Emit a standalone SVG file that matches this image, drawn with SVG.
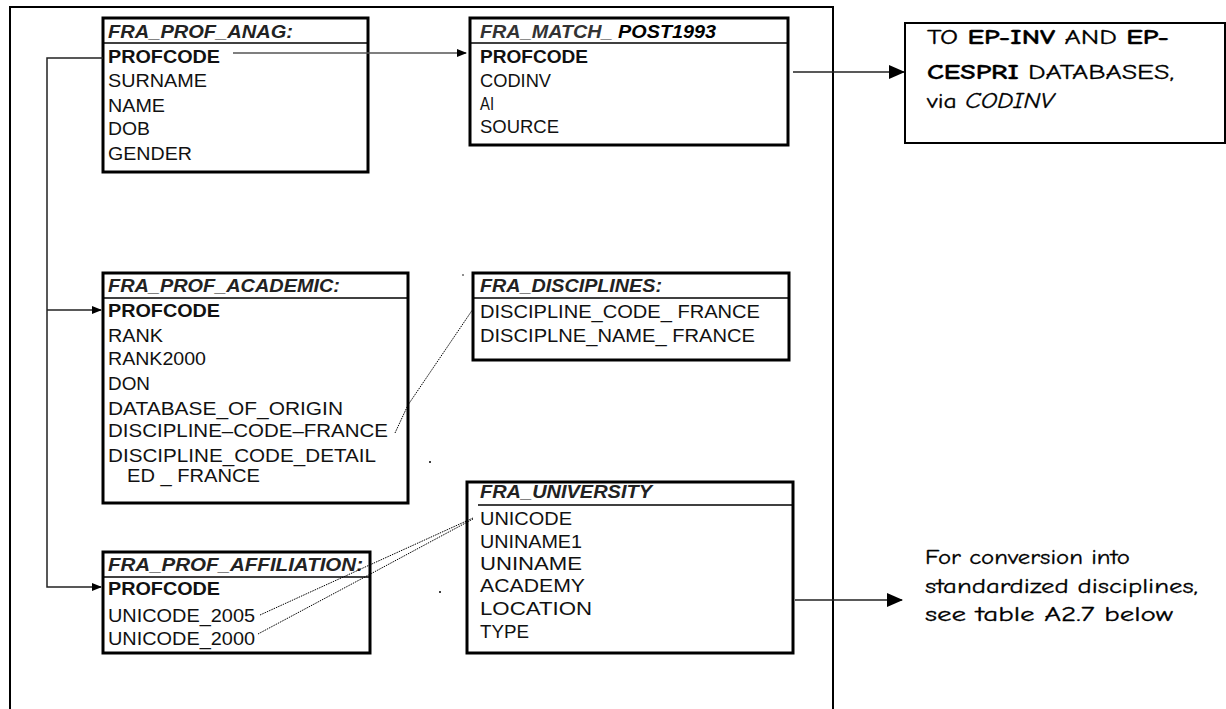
<svg xmlns="http://www.w3.org/2000/svg" width="1226" height="709" viewBox="0 0 1226 709">
<style>
.tbl{fill:#fff;stroke:#000;stroke-width:3}
.sep{stroke:#000;stroke-width:1.5}
.f{font-family:"Liberation Sans",Arial,sans-serif;font-size:19px;fill:#111}
.b{font-weight:bold}
.h{font-family:"Liberation Sans",Arial,sans-serif;font-size:19px;font-weight:bold;font-style:italic;fill:#222}
.c{font-family:"Comic Sans MS","Comic Neue","DejaVu Sans",sans-serif;font-size:21px;fill:#000;stroke:#000;stroke-width:0.3}
.conn{fill:none;stroke:#222;stroke-width:1.5}
.dot{fill:none;stroke:#000;stroke-width:1;stroke-dasharray:1.5 1}
</style>
<defs>
<marker id="ah" markerWidth="10" markerHeight="8" refX="9" refY="4" orient="auto" markerUnits="userSpaceOnUse">
<path d="M0,0 L10,4 L0,8 Z" fill="#000"/>
</marker>
<marker id="ahL" markerWidth="16" markerHeight="14" refX="15" refY="7" orient="auto" markerUnits="userSpaceOnUse">
<path d="M0,0 L16,7 L0,14 Z" fill="#000"/>
</marker>
</defs>
<rect width="1226" height="709" fill="#fff"/>
<g id="frame">
<path d="M10,709 L10,7 L833,7 L833,709" fill="none" stroke="#000" stroke-width="2"/>
</g>
<g id="fra_prof_anag">
<rect class="tbl" x="103" y="18" width="265" height="154"/>
<line class="sep" x1="103" y1="43" x2="368" y2="43"/>
<text class="h" x="108" y="38" textLength="185" lengthAdjust="spacingAndGlyphs">FRA_PROF_ANAG:</text>
<text class="f b" x="108" y="63" textLength="112" lengthAdjust="spacingAndGlyphs">PROFCODE</text>
<text class="f" x="108" y="87" textLength="99" lengthAdjust="spacingAndGlyphs">SURNAME</text>
<text class="f" x="108" y="112" textLength="57" lengthAdjust="spacingAndGlyphs">NAME</text>
<text class="f" x="108" y="135" textLength="42" lengthAdjust="spacingAndGlyphs">DOB</text>
<text class="f" x="108" y="160" textLength="84" lengthAdjust="spacingAndGlyphs">GENDER</text>
</g>
<g id="fra_match_post1993">
<rect class="tbl" x="470" y="18" width="318" height="127"/>
<line class="sep" x1="470" y1="43" x2="788" y2="43"/>
<text class="h" x="480" y="38" textLength="236" lengthAdjust="spacingAndGlyphs"><tspan fill="#333">FRA_MATCH_ </tspan><tspan fill="#000" font-weight="900">POST1993</tspan></text>
<text class="f b" x="480" y="63" textLength="108" lengthAdjust="spacingAndGlyphs">PROFCODE</text>
<text class="f" x="480" y="87" textLength="71" lengthAdjust="spacingAndGlyphs">CODINV</text>
<text class="f" x="480" y="110" textLength="14" lengthAdjust="spacingAndGlyphs">AI</text>
<text class="f" x="480" y="133" textLength="79" lengthAdjust="spacingAndGlyphs">SOURCE</text>
</g>
<g id="to_ep_inv">
<rect x="905" y="23" width="320" height="120" fill="#fff" stroke="#000" stroke-width="2"/>
<text class="c" x="927" y="44" textLength="242" lengthAdjust="spacingAndGlyphs">TO <tspan font-weight="bold">EP-INV</tspan> AND <tspan font-weight="bold">EP-</tspan></text>
<text class="c" x="927" y="79" textLength="247" lengthAdjust="spacingAndGlyphs"><tspan font-weight="bold">CESPRI</tspan> DATABASES,</text>
<text class="c" x="927" y="108" textLength="127" lengthAdjust="spacingAndGlyphs">via <tspan font-style="italic">CODINV</tspan></text>
</g>
<g id="fra_prof_academic">
<rect class="tbl" x="103" y="273" width="305" height="230"/>
<line class="sep" x1="103" y1="298" x2="408" y2="298"/>
<text class="h" x="108" y="292" textLength="232" lengthAdjust="spacingAndGlyphs">FRA_PROF_ACADEMIC:</text>
<text class="f b" x="108" y="317" textLength="112" lengthAdjust="spacingAndGlyphs">PROFCODE</text>
<text class="f" x="108" y="342" textLength="55" lengthAdjust="spacingAndGlyphs">RANK</text>
<text class="f" x="108" y="365" textLength="98" lengthAdjust="spacingAndGlyphs">RANK2000</text>
<text class="f" x="108" y="390" textLength="42" lengthAdjust="spacingAndGlyphs">DON</text>
<text class="f" x="108" y="415" textLength="235" lengthAdjust="spacingAndGlyphs">DATABASE_OF_ORIGIN</text>
<text class="f" x="108" y="437" textLength="280" lengthAdjust="spacingAndGlyphs">DISCIPLINE–CODE–FRANCE</text>
<text class="f" x="108" y="462" textLength="268" lengthAdjust="spacingAndGlyphs">DISCIPLINE_CODE_DETAIL</text>
<text class="f" x="127" y="482" textLength="133" lengthAdjust="spacingAndGlyphs">ED _ FRANCE</text>
</g>
<g id="fra_disciplines">
<rect class="tbl" x="473" y="273" width="316" height="87"/>
<line class="sep" x1="473" y1="298" x2="789" y2="298"/>
<text class="h" x="480" y="292" textLength="182" lengthAdjust="spacingAndGlyphs">FRA_DISCIPLINES:</text>
<text class="f" x="480" y="318" textLength="280" lengthAdjust="spacingAndGlyphs">DISCIPLINE_CODE_ FRANCE</text>
<text class="f" x="480" y="342" textLength="275" lengthAdjust="spacingAndGlyphs">DISCIPLNE_NAME_ FRANCE</text>
</g>
<g id="fra_prof_affiliation">
<rect class="tbl" x="103" y="552" width="267" height="101"/>
<line class="sep" x1="103" y1="577" x2="370" y2="577"/>
<text class="h" x="108" y="571" textLength="255" lengthAdjust="spacingAndGlyphs">FRA_PROF_AFFILIATION:</text>
<text class="f b" x="108" y="595" textLength="112" lengthAdjust="spacingAndGlyphs">PROFCODE</text>
<text class="f" x="108" y="622" textLength="147" lengthAdjust="spacingAndGlyphs">UNICODE_2005</text>
<text class="f" x="108" y="645" textLength="147" lengthAdjust="spacingAndGlyphs">UNICODE_2000</text>
</g>
<g id="fra_university">
<rect class="tbl" x="467" y="482" width="326" height="171"/>
<line class="sep" x1="478" y1="505" x2="793" y2="505"/>
<text class="h" x="480" y="498" textLength="172" lengthAdjust="spacingAndGlyphs">FRA_UNIVERSITY</text>
<text class="f" x="480" y="525" textLength="92" lengthAdjust="spacingAndGlyphs">UNICODE</text>
<text class="f" x="480" y="548" textLength="102" lengthAdjust="spacingAndGlyphs">UNINAME1</text>
<text class="f" x="480" y="570" textLength="102" lengthAdjust="spacingAndGlyphs">UNINAME</text>
<text class="f" x="480" y="592" textLength="105" lengthAdjust="spacingAndGlyphs">ACADEMY</text>
<text class="f" x="480" y="615" textLength="112" lengthAdjust="spacingAndGlyphs">LOCATION</text>
<text class="f" x="480" y="638" textLength="49" lengthAdjust="spacingAndGlyphs">TYPE</text>
</g>
<g id="conversion_note">
<text class="c" x="925" y="564" textLength="205" lengthAdjust="spacingAndGlyphs">For conversion into</text>
<text class="c" x="925" y="593" textLength="273" lengthAdjust="spacingAndGlyphs">standardized disciplines,</text>
<text class="c" x="925" y="621" textLength="248" lengthAdjust="spacingAndGlyphs">see table A2.7 below</text>
</g>
<g id="connectors">
<path class="conn" d="M103,58 L47,58 L47,587 L101,587" marker-end="url(#ah)"/>
<path class="conn" d="M47,310 L101,310" marker-end="url(#ah)"/>
<path d="M233,53 L466,53" fill="none" stroke="#555" stroke-width="1.5" marker-end="url(#ah)"/>
<path class="conn" d="M793,72 L904,72" stroke="#000" marker-end="url(#ahL)"/>
<path class="conn" d="M795,600 L902,600" stroke="#000" marker-end="url(#ahL)"/>
<polyline class="dot" points="395,433 408,405 473,309"/>
<polyline class="dot" points="260,615 363,568 473,518"/>
<polyline class="dot" points="258,634 363,578 473,519"/>
<circle cx="430" cy="462" r="1" fill="#000"/>
<circle cx="463" cy="275" r="0.8" fill="#000"/>
<circle cx="440" cy="592" r="1" fill="#000"/>
</g>
</svg>
